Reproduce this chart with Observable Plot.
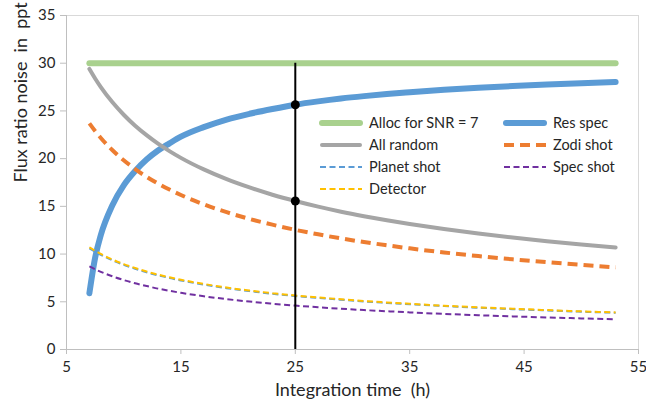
<!DOCTYPE html>
<html>
<head>
<meta charset="utf-8">
<script src="https://cdn.jsdelivr.net/npm/d3@7"></script>
<script src="https://cdn.jsdelivr.net/npm/@observablehq/plot@0.6"></script>
<style>
  html, body { margin: 0; padding: 0; background: #fff; }
  #chart { width: 646px; height: 404px; }
</style>
</head>
<body>
<div id="chart"></div>
<script>
// Integration time (h)
const times = [7, 7.5, 8, 9, 10, 11, 12, 13, 14, 15, 17, 19, 21, 23, 25, 27, 29, 31, 33, 35, 38, 41, 44, 47, 50, 53];
// Series values (ppt)
const allocSNR7 = [30, 30, 30, 30, 30, 30, 30, 30, 30, 30, 30, 30, 30, 30, 30, 30, 30, 30, 30, 30, 30, 30, 30, 30, 30, 30];
const resSpec   = [5.9, 9.6, 12.0, 15.1, 17.2, 18.7, 19.9, 20.85, 21.6, 22.3, 23.3, 24.1, 24.7, 25.2, 25.65, 26.0, 26.3, 26.55, 26.77, 26.96, 27.22, 27.43, 27.61, 27.77, 27.91, 28.03];
const allRandom = [29.4, 28.4, 27.5, 25.93, 24.6, 23.45, 22.46, 21.57, 20.79, 20.08, 18.87, 17.85, 16.98, 16.22, 15.56, 14.97, 14.44, 13.97, 13.54, 13.15, 12.62, 12.15, 11.73, 11.35, 11.0, 10.68];
const zodiShot  = [23.7, 22.9, 22.17, 20.9, 19.83, 18.91, 18.1, 17.39, 16.76, 16.19, 15.21, 14.39, 13.68, 13.08, 12.54, 12.07, 11.64, 11.26, 10.92, 10.6, 10.17, 9.79, 9.45, 9.15, 8.87, 8.61];
const planetShot= [10.6, 10.25, 9.92, 9.35, 8.87, 8.46, 8.09, 7.77, 7.5, 7.24, 6.8, 6.43, 6.12, 5.84, 5.6, 5.4, 5.21, 5.03, 4.88, 4.74, 4.55, 4.38, 4.23, 4.09, 3.96, 3.85];
const specShot  = [8.7, 8.41, 8.14, 7.67, 7.28, 6.94, 6.65, 6.38, 6.15, 5.94, 5.58, 5.28, 5.02, 4.8, 4.6, 4.43, 4.27, 4.13, 4.01, 3.89, 3.73, 3.59, 3.47, 3.36, 3.26, 3.16];
const detector  = [10.7, 10.34, 10.01, 9.44, 8.95, 8.54, 8.17, 7.85, 7.57, 7.31, 6.87, 6.49, 6.18, 5.9, 5.66, 5.45, 5.26, 5.08, 4.93, 4.79, 4.59, 4.42, 4.27, 4.13, 4.0, 3.89];

// Marker at 25 h
const markerTime = 25;
const markerTop = 30;
const markerPoints = [25.65, 15.56];

const xTicks = [5, 15, 25, 35, 45, 55];
const yTicks = [0, 5, 10, 15, 20, 25, 30, 35];

const seriesNames = ["Alloc for SNR = 7", "Res spec", "All random", "Zodi shot", "Planet shot", "Spec shot", "Detector"];
const seriesData = [allocSNR7, resSpec, allRandom, zodiShot, planetShot, specShot, detector];
const styles = {
  "Alloc for SNR = 7": {stroke: "#A9D18E", width: 6, dash: null},
  "Res spec":          {stroke: "#5B9BD5", width: 6, dash: null},
  "All random":        {stroke: "#A5A5A5", width: 4, dash: null},
  "Zodi shot":         {stroke: "#ED7D31", width: 4, dash: "10,6"},
  "Planet shot":       {stroke: "#5B9BD5", width: 2, dash: "6,3.5"},
  "Spec shot":         {stroke: "#7030A0", width: 2, dash: "6,3.5"},
  "Detector":          {stroke: "#FFC000", width: 2, dash: "6,3.5"}
};
const drawOrder = ["Alloc for SNR = 7", "Res spec", "All random", "Zodi shot", "Planet shot", "Spec shot", "Detector"];

const rows = [];
seriesNames.forEach((name, i) => {
  times.forEach((t, j) => rows.push({series: name, t, v: seriesData[i][j]}));
});

const font = "Lato, 'Open Sans', 'Liberation Sans', sans-serif";
const textColor = "#262626";

const lineMarks = drawOrder.map(name => {
  const s = styles[name];
  return Plot.line(rows.filter(r => r.series === name), {
    x: "t", y: "v", stroke: s.stroke, strokeWidth: s.width,
    strokeDasharray: s.dash, strokeLinecap: s.dash ? "butt" : "round",
    curve: "monotone-x"
  });
});

const chart = Plot.plot({
  width: 646,
  height: 404,
  marginLeft: 66,
  marginRight: 8,
  marginTop: 15,
  marginBottom: 55,
  style: {fontFamily: font, fontSize: "15px", color: textColor, background: "#fff"},
  x: {domain: [5, 55]},
  y: {domain: [0, 35]},
  marks: [
    Plot.frame({stroke: "#D9D9D9"}),
    Plot.ruleX([5], {stroke: "#BFBFBF"}),
    Plot.ruleY([0], {stroke: "#BFBFBF"}),
    Plot.axisX({ticks: xTicks, tickSize: 5, tickPadding: 7, stroke: "#BFBFBF", fill: textColor, fontSize: 15, label: null}),
    Plot.axisY({ticks: yTicks, tickSize: 6, tickPadding: 5, stroke: "#BFBFBF", fill: textColor, fontSize: 15, label: null}),
    ...lineMarks,
    Plot.ruleX([markerTime], {y1: 0, y2: markerTop, stroke: "black", strokeWidth: 2}),
    Plot.dot(markerPoints, {x: () => markerTime, y: d => d, r: 4.5, fill: "black"}),
    Plot.text(["Integration time  (h)"], {frameAnchor: "bottom", dy: 41, fontSize: 18, fill: textColor, lineAnchor: "middle"}),
    Plot.text(["Flux ratio noise  in  ppt"], {frameAnchor: "left", dx: -45, rotate: -90, fontSize: 18, fill: textColor, lineAnchor: "middle"})
  ]
});

document.getElementById("chart").appendChild(chart);

// Legend inside the plot area
const svg = d3.select(chart);
const legendItems = [
  {name: "Alloc for SNR = 7", col: 0, row: 0},
  {name: "Res spec", col: 1, row: 0},
  {name: "All random", col: 0, row: 1},
  {name: "Zodi shot", col: 1, row: 1},
  {name: "Planet shot", col: 0, row: 2},
  {name: "Spec shot", col: 1, row: 2},
  {name: "Detector", col: 0, row: 3}
];
const colX = [320, 504];
const rowY = [123, 145, 167, 189];
const lg = svg.append("g")
  .attr("font-family", font).attr("font-size", 14.5).attr("fill", textColor)
  .attr("text-anchor", "start");
legendItems.forEach(it => {
  const s = styles[it.name];
  const x0 = colX[it.col], y0 = rowY[it.row];
  lg.append("line")
    .attr("x1", x0 + (s.dash ? 0 : 2)).attr("x2", x0 + 42 - (s.dash ? 0 : 2))
    .attr("y1", y0).attr("y2", y0)
    .attr("stroke", s.stroke).attr("stroke-width", s.width)
    .attr("stroke-dasharray", s.dash)
    .attr("stroke-linecap", s.dash ? "butt" : "round");
  lg.append("text").attr("x", x0 + 49).attr("y", y0).attr("dy", "0.35em")
    .attr("text-anchor", "start").text(it.name);
});
</script>
</body>
</html>
